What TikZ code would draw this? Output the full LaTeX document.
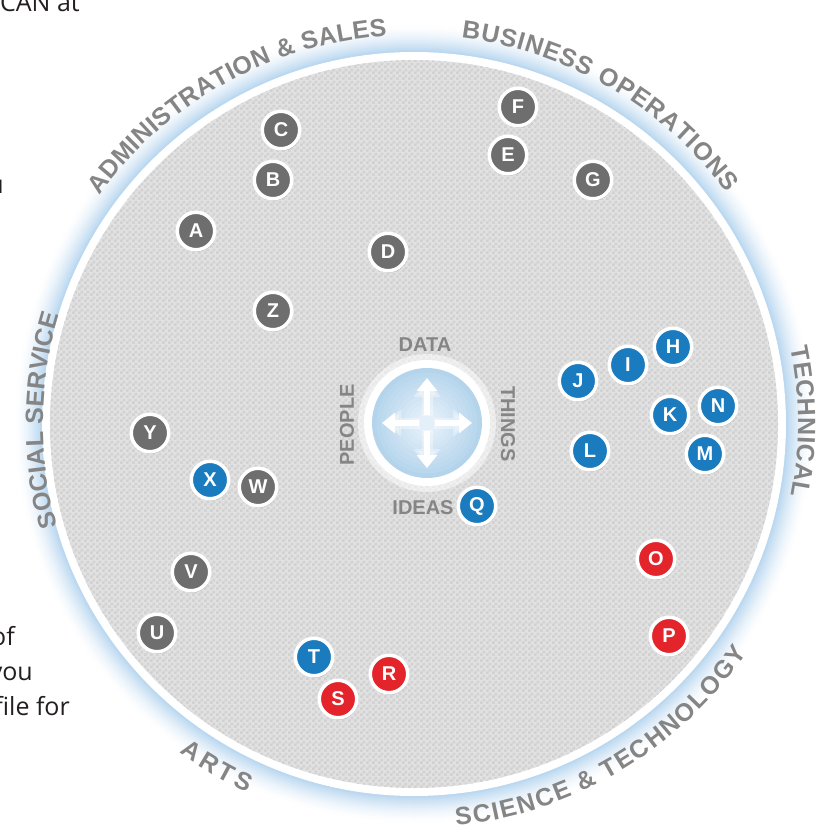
\documentclass[tikz,border=0pt]{standalone}
\usepackage{fontspec}
\setmainfont{Liberation Sans}
\newfontfamily\pagefont{Open Sans}
\usetikzlibrary{decorations.text,shadows,arrows.meta,patterns,calc}

\definecolor{nodegrey}{HTML}{6E6E6E}
\definecolor{nodeblue}{HTML}{1B7BBF}
\definecolor{nodered}{HTML}{E3242B}
\definecolor{labelgrey}{HTML}{858585}
\definecolor{diskgrey}{HTML}{E1E1E1}
\definecolor{checkgrey}{HTML}{D1D1D1}
\definecolor{glowblue}{HTML}{B2D3EE}
\definecolor{hubblue}{HTML}{B4D4EC}
\definecolor{hublight}{HTML}{EAF3FB}
\definecolor{pagetext}{HTML}{231F20}

% fine checkered texture of the big disk
\pgfdeclarepatternformonly{finechecks}{\pgfpointorigin}{\pgfqpoint{6pt}{6pt}}{\pgfqpoint{6pt}{6pt}}{%
  \pgfpathrectangle{\pgfpointorigin}{\pgfqpoint{3pt}{3pt}}%
  \pgfpathrectangle{\pgfqpoint{3pt}{3pt}}{\pgfqpoint{3pt}{3pt}}%
  \pgfusepath{fill}}

\newcommand\arcfmt{\bfseries\fontsize{25}{25}\selectfont\color{labelgrey}}

\tikzset{
  letter/.style={circle, minimum size=37.5pt, inner sep=0pt, draw=white,
    line width=3.5pt, text=white, font=\bfseries\fontsize{20}{20}\selectfont,
    drop shadow={shadow xshift=1pt, shadow yshift=-1.8pt, opacity=0.25, fill=black}},
  gr/.style={letter, fill=nodegrey},
  bl/.style={letter, fill=nodeblue},
  rd/.style={letter, fill=nodered},
  axis/.style={font=\bfseries\fontsize{20}{20}\selectfont, text=labelgrey, inner sep=0pt},
  hubarrow/.style={white, line width=5.5pt, -{Triangle[width=20pt,length=13pt]}},
  hubhalo/.style={white, opacity=0.35, line width=11pt, -{Triangle[width=26pt,length=17pt]}},
  arclabel/.style={decorate, decoration={text along path, text align={fit to path}, text={#1}}},
  pagetxt/.style={font=\pagefont\fontsize{25}{25}\selectfont, text=pagetext, inner sep=0pt, anchor=base east},
}

\begin{document}
\begin{tikzpicture}[x=1pt,y=1pt]
\useasboundingbox (0,0) rectangle (833,-830);
\fill[white] (0,0) rectangle (833,-830);

\coordinate (wheel) at (414,-424);
\coordinate (hub) at (427,-423);

% soft blue glow around the wheel
\foreach \i in {0,...,13} {
  \pgfmathsetmacro\r{398-2*\i}
  \pgfmathsetmacro\p{100*((\i+1)/14)^1.6}
  \fill[glowblue!\p!white] (wheel) circle (\r);
}
% white rim and textured disk
\fill[white] (wheel) circle (372);
\fill[diskgrey] (wheel) circle (364);
\fill[pattern=finechecks, pattern color=checkgrey] (wheel) circle (364);

% central hub
\fill[white, opacity=0.5] (hub) circle (69);
\fill[white] (hub) circle (63);
\foreach \i in {0,...,10} {
  \pgfmathsetmacro\p{100-\i*9}
  \fill[hubblue!\p!hublight] (hub) circle ({55-\i*4.5});
}
\foreach \a in {90,0,180,270} {
  \draw[hubhalo] (hub) ++(\a:7) -- ++(\a:36);
}
\foreach \a in {90,0,180,270} {
  \draw[hubarrow] (hub) ++(\a:8) -- ++(\a:37);
}

% the four work-task axes
\node[axis] (data) at (425,-345) {DATA};
\node[axis, rotate=90] (people) at (347,-425) {PEOPLE};
\node[axis, rotate=-90] (things) at (508,-424) {THINGS};
\node[axis] (ideas) at (423,-508) {IDEAS};

% career-area names around the rim
\path[arclabel={|\arcfmt|ADMINISTRATION {\&} SALES}]
  ($(wheel)+(144:389)$) arc[start angle=144, end angle=94, radius=389];
\path[arclabel={|\arcfmt|BUSINESS OPERATIONS}]
  ($(wheel)+(83:389)$) arc[start angle=83, end angle=36.5, radius=389];
\path[arclabel={|\arcfmt|TECHNICAL}]
  ($(wheel)+(11.5:384)$) arc[start angle=11.5, end angle=-10.8, radius=384];
\path[arclabel={|\arcfmt|SOCIAL SERVICE}]
  ($(wheel)+(196:371)$) arc[start angle=196, end angle=162.8, radius=371];
\path[arclabel={|\arcfmt|SCIENCE {\&} TECHNOLOGY}]
  ($(wheel)+(-84:404)$) arc[start angle=-84, end angle=-34.5, radius=404];
\path[arclabel={|\arcfmt|ARTS}]
  ($(wheel)+(-125.5:404)$) arc[start angle=-125.5, end angle=-114.3, radius=404];

% career clusters
\foreach \n/\s/\x/\y in {
  A/gr/196/231, B/gr/273/180, C/gr/281/130, D/gr/388/252,
  E/gr/508/155, F/gr/518/107, G/gr/593/180, Z/gr/273/311,
  H/bl/673/347, I/bl/628/365, J/bl/578/381, K/bl/670/415,
  N/bl/718/406, L/bl/590/451, M/bl/705/454, Q/bl/477/506,
  O/rd/656/559, P/rd/669/636, R/rd/389/674, S/rd/338/699,
  T/bl/314/657, U/gr/157/633, V/gr/191/572, W/gr/258/487,
  X/bl/210/480, Y/gr/150/433} {
  \node[\s] (\n) at (\x,-\y) {\n};
}

% surrounding page text cut by the frame
\node[pagetxt] (frag1) at (80,-11) {ICAN at};
\node[pagetxt] (frag2) at (4,-193) {u};
\node[pagetxt] (frag3) at (15,-645) {of};
\node[pagetxt] (frag4) at (33,-680) {you};
\node[pagetxt] (frag5) at (70,-715) {file for};
\end{tikzpicture}
\end{document}
